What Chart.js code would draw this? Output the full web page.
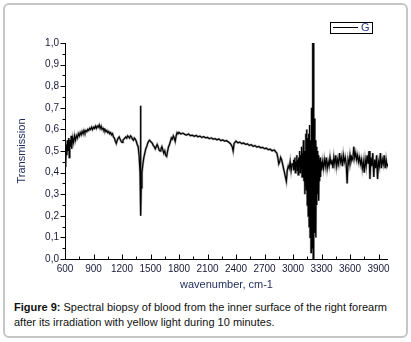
<!DOCTYPE html>
<html><head><meta charset="utf-8">
<script src="https://cdn.jsdelivr.net/npm/chart.js@4/dist/chart.umd.min.js"></script>
<style>
html,body{margin:0;padding:0;background:#fff;}
#wrap{position:relative;width:411px;height:342px;overflow:hidden;font-family:"Liberation Sans",Arial,sans-serif;}
#frame{position:absolute;left:3px;top:3px;width:401px;height:331px;border:2px solid #c6c6c6;border-radius:6px;}
#cv{position:absolute;left:0;top:0;}
#cap{position:absolute;left:14px;top:300px;width:395px;font-size:11px;line-height:15px;color:#111;}
</style></head><body>
<div id="wrap">
<div id="frame"></div>
<canvas id="cv" width="411" height="300"></canvas>
<div id="cap"><b>Figure 9:</b> Spectral biopsy of blood from the inner surface of the right forearm after its irradiation with yellow light during 10 minutes.</div>
</div>
<script>
// wavenumber (cm-1)
const wavenumbers = [
600,605,610,615,620,625,630,640,645,650,660,665,670,680,690,700,710,720,730,740,750,760,770,780,790,800,810,820,830,840,850,860,870,880,890,900,910,920,930,940,950,960,970,980,990,1000,1010,1020,1030,1040,1050,1060,1070,1080,1090,1100,1110,1120,1130,1140,1150,1160,1170,1180,1190,1200,1210,1220,1230,1240,1250,1260,1270,1280,1290,1300,1310,1320,1330,1340,1350,1360,1370,1380,1390,1395,1398,1402,1410,1420,1430,1440,1450,1460,1470,1480,1490,1500,1510,1520,1530,1540,1550,1560,1570,1580,1590,1600,1610,1620,1630,1640,1650,1660,1670,1680,1690,1700,1710,1720,1730,1740,1750,1760,1770,1780,1790,
1800,1820,1840,1860,1880,1900,1920,1940,1960,1980,2000,2020,2040,2060,2080,2100,2120,2140,2160,2180,2200,2220,2240,2260,2280,2300,2320,2340,2360,2370,2380,2400,2420,2440,2460,2480,2500,2520,2540,2560,2580,2600,2620,2640,2660,2680,2700,2720,2740,2760,2780,
2800,2810,2820,2830,2840,2850,2860,2870,2880,2890,2900,2910,2920,2930,2940,2950,2960,2970,2980,2990,
3000,3005,3010,3015,3020,3025,3030,3035,3040,3045,3050,3055,3060,3065,3070,3075,3080,3085,3090,3095,3100,3105,3110,3115,3120,3125,3130,3135,3140,3145,3150,3155,3160,3165,3170,3175,3180,3185,3190,3195,3200,3205,3208,3210,3213,3216,3220,3225,3230,3235,3240,3245,3250,3255,3260,3265,3270,3275,3280,3285,3290,3295,3300,
3310,3320,3330,3340,3350,3360,3370,3380,3390,3400,3410,3420,3430,3440,3450,3460,3470,3480,3490,3500,3510,3520,3530,3540,3550,3560,3570,3580,3590,3600,3610,3620,3630,3640,3650,3660,3670,3680,3690,3700,3710,3720,3730,3740,3750,3760,3770,3780,3790,3800,3810,3820,3830,3840,3850,3860,3870,3880,3890,3900,3910,3920,3930,3940,3950,3960,3970,3980,3990,4000];
// transmission values
const transmission = [
0.43,0.50,0.45,0.53,0.48,0.55,0.50,0.56,0.47,0.55,0.52,0.57,0.51,0.56,0.54,0.57,0.55,0.57,0.56,0.58,0.57,0.585,0.575,0.59,0.58,0.595,0.585,0.595,0.59,0.60,0.595,0.605,0.60,0.61,0.60,0.61,0.605,0.615,0.605,0.615,0.61,0.62,0.605,0.615,0.60,0.605,0.595,0.60,0.59,0.595,0.585,0.59,0.58,0.585,0.575,0.58,0.565,0.56,0.545,0.535,0.55,0.56,0.565,0.555,0.545,0.54,0.55,0.555,0.56,0.565,0.56,0.57,0.565,0.56,0.57,0.565,0.555,0.55,0.56,0.555,0.545,0.53,0.52,0.48,0.40,0.71,0.20,0.33,0.40,0.44,0.47,0.49,0.51,0.52,0.535,0.545,0.55,0.545,0.54,0.535,0.525,0.52,0.51,0.52,0.53,0.52,0.505,0.50,0.51,0.52,0.505,0.49,0.50,0.48,0.475,0.50,0.52,0.53,0.545,0.56,0.555,0.57,0.56,0.545,0.57,0.585,0.58,
0.586,0.579,0.583,0.577,0.574,0.579,0.571,0.573,0.568,0.572,0.566,0.569,0.563,0.566,0.561,0.563,0.557,0.561,0.555,0.557,0.552,0.556,0.548,0.551,0.546,0.548,0.542,0.535,0.52,0.50,0.535,0.546,0.538,0.541,0.534,0.537,0.531,0.533,0.526,0.529,0.522,0.525,0.518,0.521,0.515,0.517,0.511,0.513,0.506,0.508,0.501,
0.505,0.50,0.495,0.49,0.47,0.44,0.45,0.47,0.46,0.44,0.42,0.40,0.38,0.36,0.41,0.43,0.42,0.45,0.41,0.44,
0.44,0.41,0.46,0.42,0.47,0.40,0.45,0.43,0.48,0.41,0.46,0.39,0.47,0.43,0.50,0.40,0.48,0.42,0.52,0.38,0.49,0.42,0.55,0.36,0.50,0.30,0.46,0.58,0.32,0.60,0.25,0.56,0.20,0.58,0.15,0.62,0.10,0.55,0.03,0.70,0.05,1.00,0.40,0.91,0.00,1.00,0.10,0.65,0.12,0.55,0.10,0.52,0.25,0.50,0.30,0.48,0.27,0.46,0.36,0.47,0.38,0.45,0.41,
0.45,0.42,0.46,0.43,0.47,0.42,0.45,0.43,0.47,0.44,0.46,0.42,0.47,0.44,0.48,0.43,0.46,0.44,0.49,0.45,0.47,0.43,0.48,0.45,0.47,0.44,0.35,0.46,0.44,0.48,0.45,0.47,0.46,0.52,0.47,0.49,0.46,0.48,0.45,0.47,0.44,0.46,0.42,0.45,0.40,0.46,0.43,0.48,0.44,0.50,0.37,0.47,0.43,0.49,0.38,0.46,0.42,0.48,0.37,0.45,0.43,0.49,0.42,0.46,0.44,0.48,0.42,0.46,0.43,0.44];
const xTickValues = [600,900,1200,1500,1800,2100,2400,2700,3000,3300,3600,3900];
const yTickValues = [0,0.1,0.2,0.3,0.4,0.5,0.6,0.7,0.8,0.9,1.0];
const seriesName = 'G';

const pts = wavenumbers.map((w,i)=>({x:w,y:transmission[i]}));

const axesPlugin = {
  id:'axesPlugin',
  afterDraw(chart){
    const ctx = chart.ctx, xs = chart.scales.x, ys = chart.scales.y, ca = chart.chartArea;
    ctx.save();
    ctx.strokeStyle = '#000'; ctx.lineWidth = 1;
    ctx.beginPath();
    ctx.moveTo(Math.round(ca.left)+0.5, ca.top); ctx.lineTo(Math.round(ca.left)+0.5, Math.round(ca.bottom)+0.5);
    ctx.lineTo(ca.right, Math.round(ca.bottom)+0.5);
    const lx = Math.round(ca.left)+0.5;
    yTickValues.forEach(v=>{ const p=Math.round(ys.getPixelForValue(v))+0.5; ctx.moveTo(lx,p); ctx.lineTo(lx-5,p); });
    for(let i=0;i<yTickValues.length-1;i++){ const v=(yTickValues[i]+yTickValues[i+1])/2; const p=Math.round(ys.getPixelForValue(v))+0.5; ctx.moveTo(lx,p); ctx.lineTo(lx-3,p); }
    const by = Math.round(ca.bottom)+0.5;
    xTickValues.forEach(v=>{ const p=Math.round(xs.getPixelForValue(v))+0.5; ctx.moveTo(p,by); ctx.lineTo(p,by-5); });
    xTickValues.forEach(v=>{ const m=v+150; if(m<xs.max){ const p=Math.round(xs.getPixelForValue(m))+0.5; ctx.moveTo(p,by); ctx.lineTo(p,by-3);} });
    ctx.stroke();
    // legend
    ctx.strokeRect(330.5,22.5,42,11);
    ctx.beginPath(); ctx.moveTo(333,27.5); ctx.lineTo(358,27.5); ctx.stroke();
    ctx.fillStyle = '#2a3a8a'; ctx.font = '11px "Liberation Sans", Arial, sans-serif';
    ctx.textBaseline = 'middle'; ctx.textAlign = 'left';
    ctx.fillText(seriesName, 361, 28);
    ctx.restore();
  }
};

new Chart(document.getElementById('cv'), {
  type:'line',
  data:{datasets:[
    {label:seriesName, data:pts, borderColor:'#000', borderWidth:1.2, pointRadius:0, tension:0, order:0},
    {label:seriesName+' shadow', data:pts, borderColor:'#a8a8a8', borderWidth:2.4, pointRadius:0, tension:0, order:1}
  ]},
  options:{
    responsive:false, animation:false, events:[],
    layout:{padding:{left:0,right:23,top:43,bottom:0}},
    plugins:{legend:{display:false}, tooltip:{enabled:false}},
    scales:{
      x:{type:'linear', min:600, max:4000,
        afterBuildTicks(s){ s.ticks = xTickValues.map(v=>({value:v})); },
        afterFit(s){ s.height = 41; },
        grid:{display:false, drawTicks:false}, border:{display:false},
        ticks:{padding:4, color:'#1a1a3a', font:{family:'"Liberation Sans", Arial, sans-serif', size:10}, maxRotation:0, autoSkip:false, callback:v=>String(v)},
        title:{display:true, text:'wavenumber, cm-1', color:'#1e2a5a', font:{family:'"Liberation Sans", Arial, sans-serif', size:11}, padding:{top:0,bottom:8}}
      },
      y:{type:'linear', min:0, max:1,
        afterBuildTicks(s){ s.ticks = yTickValues.map(v=>({value:v})); },
        afterFit(s){ s.width = 65; },
        grid:{display:false, drawTicks:false}, border:{display:false},
        ticks:{padding:6, color:'#1a1a3a', font:{family:'"Liberation Sans", Arial, sans-serif', size:10}, callback:v=>v.toFixed(1).replace('.',',')},
        title:{display:true, text:'Transmission', color:'#1e2a5a', font:{family:'"Liberation Sans", Arial, sans-serif', size:11}, padding:{top:15,bottom:0}}
      }
    }
  },
  plugins:[axesPlugin]
});
</script>
</body></html>
